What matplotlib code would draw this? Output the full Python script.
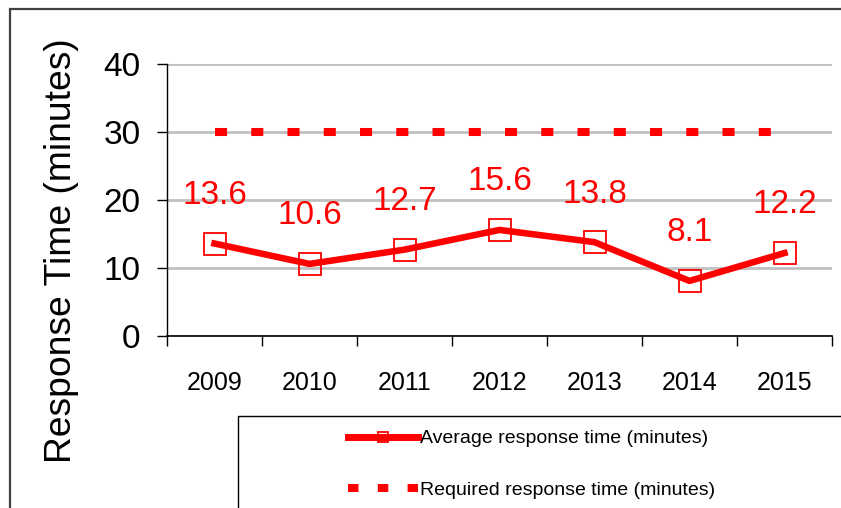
import matplotlib
matplotlib.use('Agg')
import matplotlib.pyplot as plt
from matplotlib.patches import Rectangle
from matplotlib.lines import Line2D

years = ['2009', '2010', '2011', '2012', '2013', '2014', '2015']
avg_time = [13.6, 10.6, 12.7, 15.6, 13.8, 8.1, 12.2]
required_time = [30, 30, 30, 30, 30, 30, 30]
yticks = [0, 10, 20, 30, 40]

narrow = ['Liberation Sans Narrow', 'Liberation Sans', 'DejaVu Sans']
regular = ['Liberation Sans', 'DejaVu Sans']

W, H = 841, 508
fig = plt.figure(figsize=(W / 100, H / 100), dpi=100)

# outer chart border (cropped on the right and bottom)
fig.patches.append(Rectangle((10 / W, -0.2), 1.2, 1.2 - 9 / H,
                             transform=fig.transFigure, fill=False,
                             edgecolor='#404040', linewidth=1.6))

ax = fig.add_axes([167 / W, 1 - 336 / H, (832 - 167) / W, (336 - 64) / H])
x = list(range(len(years)))

ax.plot(x, required_time, color='#ff0000', linewidth=5.8,
        dashes=(1.5, 3), dash_capstyle='butt', zorder=3)
ax.plot(x, avg_time, color='#ff0000', linewidth=4.7, marker='s',
        markersize=16.5, markerfacecolor='none', markeredgewidth=1.3,
        markeredgecolor='#ff0000', zorder=4)

for xi, v in zip(x, avg_time):
    ax.annotate(f'{v}', (xi, v), xytext=(0, 28.5), textcoords='offset points',
                ha='center', va='baseline', color='#ff0000', fontsize=24,
                family=narrow)

ax.set_xlim(-0.5, len(years) - 0.5)
ax.set_ylim(0, 40)
ax.set_yticks(yticks)
ax.set_yticklabels([str(t) for t in yticks], fontsize=24, family=narrow)
ax.set_xticks([i - 0.5 for i in range(len(years) + 1)])
ax.set_xticklabels([])
ax.set_xticks(x, minor=True)
ax.set_xticklabels(years, minor=True, fontsize=18, family=narrow)
ax.tick_params(axis='x', which='major', length=7, width=1, direction='out')
ax.tick_params(axis='x', which='minor', length=0, pad=25)
ax.tick_params(axis='y', length=7, width=1, pad=12)
ax.yaxis.grid(True, color='#c0c0c0', linewidth=2)
ax.set_axisbelow(True)
for s in ['top', 'right']:
    ax.spines[s].set_visible(False)
ax.spines['left'].set_linewidth(1)
ax.spines['bottom'].set_linewidth(1.2)

fig.text(62 / W, 1 - 251 / H, 'Response Time (minutes)', rotation=90,
         ha='center', va='center', fontsize=26.8, family=regular)

# legend box (cropped on the right and bottom)
fig.patches.append(Rectangle((238 / W, -0.2), 1.0, 0.2 + 1 - 416 / H,
                             transform=fig.transFigure, fill=False,
                             edgecolor='black', linewidth=1))
handles = [
    Line2D([], [], color='#ff0000', linewidth=5, marker='s', markersize=7,
           markerfacecolor='none', markeredgewidth=1.3),
    Line2D([], [], color='#ff0000', linewidth=5.8, dashes=(1.3, 2.4),
           dash_capstyle='butt'),
]
leg = fig.legend(handles, ['Average response time (minutes)',
                           'Required response time (minutes)'],
                 loc='upper left', bbox_to_anchor=(342 / W, 1 - 424 / H),
                 frameon=False, handlelength=3.6, handletextpad=0.1,
                 labelspacing=1.75, prop={'family': narrow, 'size': 14},
                 borderaxespad=0, borderpad=0.3)

fig.savefig('out.png', dpi=100)
